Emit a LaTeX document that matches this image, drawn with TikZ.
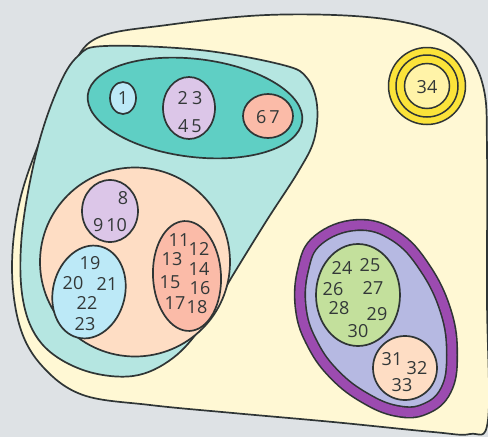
\documentclass[tikz,border=0pt]{standalone}
\usepackage{fontspec}
\setmainfont{Open Sans}
\usetikzlibrary{shapes.geometric}
\definecolor{bg}{HTML}{DEE2E5}
\definecolor{cream}{HTML}{FFF8D4}
\definecolor{tealL}{HTML}{B5E6E1}
\definecolor{tealD}{HTML}{5FCFC4}
\definecolor{sky}{HTML}{BCE9F7}
\definecolor{lilac}{HTML}{DCC6E8}
\definecolor{salmon}{HTML}{FBBBA8}
\definecolor{peach}{HTML}{FEDDC4}
\definecolor{purp}{HTML}{9C4BB0}
\definecolor{periw}{HTML}{B6B9E2}
\definecolor{lime}{HTML}{C3E09C}
\definecolor{gold}{HTML}{FBE33A}
\definecolor{goldL}{HTML}{FFF3A8}
\definecolor{ln}{HTML}{2F3535}
\definecolor{txt}{HTML}{333838}
\begin{document}
\begin{tikzpicture}[x=1pt,y=-1pt,
  blob/.style={draw=ln, line width=1.7pt},
  setn/.style={ellipse, draw=ln, line width=1.7pt, inner sep=0pt},
  lbl/.style={font=\fontsize{18}{18}\selectfont, text=txt, inner sep=0pt}]
\useasboundingbox (0,0) rectangle (488,437);
\fill[bg] (0,0) rectangle (488,437);
\clip (0,0) rectangle (488,437);
% outer universe blob
\draw[blob, fill=cream] plot[smooth cycle, tension=0.6] coordinates {
  (97,38) (167,25) (267,15) (367,17) (433,30) (467,53) (484,90) (487,150)
  (487,300) (488,420) (470,434) (433,432) (333,422) (233,413) (150,405)
  (83,395) (43,367) (20,327) (12,267) (20,200) (43,133) (70,72)};
% large teal blob
\draw[blob, fill=tealL] plot[smooth cycle, tension=0.6] coordinates {
  (105,46) (200,50) (283,65) (307,78) (317,105) (314,140) (298,172)
  (267,220) (233,275) (205,322) (173,358) (133,376) (83,370) (42,344)
  (23,300) (22,233) (37,150) (58,88) (78,56)};
% dark teal ellipse
\node[setn, fill=tealD, minimum width=216pt, minimum height=98pt, rotate=-7] (A) at (195,108) {};
\node[setn, fill=sky, minimum width=26pt, minimum height=32pt] (e1) at (123,98) {};
\node[setn, fill=lilac, minimum width=52pt, minimum height=62pt] (e2) at (189,108) {};
\node[setn, fill=salmon, minimum width=50pt, minimum height=44pt] (e3) at (268,116) {};
% peach circle
\node[setn, fill=peach, minimum width=190pt, minimum height=189pt] (B) at (135,262) {};
\node[setn, fill=lilac, minimum width=56pt, minimum height=62pt] (e4) at (110,211) {};
\node[setn, fill=sky, minimum width=72pt, minimum height=94pt, rotate=-14] (e5) at (89,292) {};
\node[setn, fill=salmon, minimum width=68pt, minimum height=110pt, rotate=3] (e6) at (187,276) {};
% purple egg
\draw[line width=1.6pt, draw=ln, fill=periw, double=purp, double distance=9pt]
  plot[smooth cycle, tension=0.7] coordinates {
  (357,225) (395,236) (425,268) (446,312) (452,355) (446,390) (425,409)
  (397,411) (365,398) (335,375) (313,345) (301,310) (303,270) (318,240)};
\node[setn, fill=lime, minimum width=84pt, minimum height=102pt] (C) at (358,295) {};
\node[setn, fill=peach, minimum width=64pt, minimum height=64pt] (D) at (405,368) {};
% yellow rings
\node[circle, draw=ln, line width=1.5pt, fill=gold, minimum size=77pt, inner sep=0pt] (Y1) at (427,86) {};
\node[circle, draw=ln, line width=1.5pt, fill=gold, minimum size=62pt, inner sep=0pt] (Y2) at (427,86) {};
\node[circle, draw=ln, line width=1.5pt, fill=goldL, minimum size=45pt, inner sep=0pt] (Y3) at (427,86) {};
% labels
\node[lbl] (t1) at (123,98) {1};
\node[lbl] (t23) at (190,98) {2\hspace{4pt}3};
\node[lbl] (t45) at (190,126) {4\hspace{3pt}5};
\node[lbl] (t67) at (268,117) {6\hspace{3pt}7};
\node[lbl] (t8) at (123,198) {8};
\node[lbl] (t910) at (110,225) {9\hspace{3pt}10};
\node[lbl] (t19) at (90,263) {19};
\node[lbl] (t20) at (73,283) {20};
\node[lbl] (t21) at (107,284) {21};
\node[lbl] (t22) at (87,303) {22};
\node[lbl] (t23b) at (85,324) {23};
\node[lbl] (t11) at (179,240) {11};
\node[lbl] (t12) at (199,249) {12};
\node[lbl] (t13) at (172,259) {13};
\node[lbl] (t14) at (199,269) {14};
\node[lbl] (t15) at (170,282) {15};
\node[lbl] (t16) at (200,288) {16};
\node[lbl] (t17) at (175,303) {17};
\node[lbl] (t18) at (197,307) {18};
\node[lbl] (t24) at (342,268) {24};
\node[lbl] (t25) at (370,265) {25};
\node[lbl] (t26) at (333,289) {26};
\node[lbl] (t27) at (373,288) {27};
\node[lbl] (t28) at (339,308) {28};
\node[lbl] (t29) at (377,314) {29};
\node[lbl] (t30) at (358,331) {30};
\node[lbl] (t31) at (392,359) {31};
\node[lbl] (t32) at (417,368) {32};
\node[lbl] (t33) at (402,385) {33};
\node[lbl] (t34) at (427,87) {34};
\end{tikzpicture}
\end{document}
